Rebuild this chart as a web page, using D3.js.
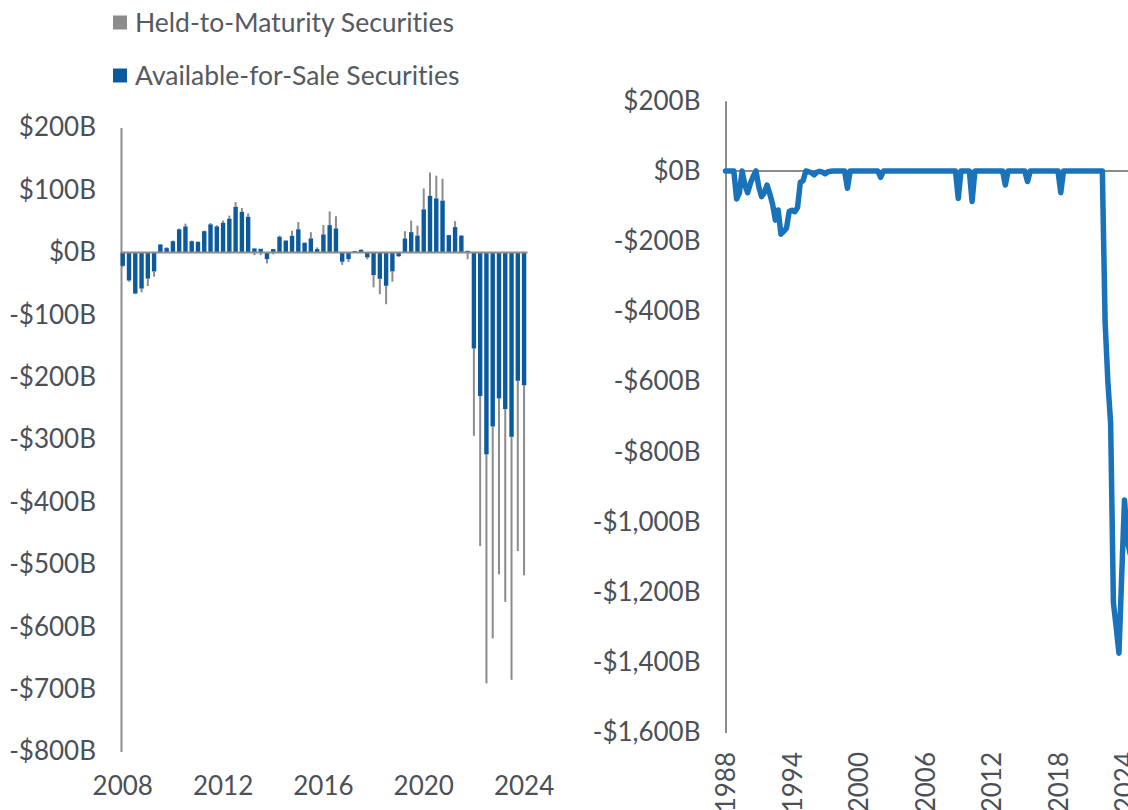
<!DOCTYPE html>
<html>
<head>
<meta charset="utf-8">
<script src="https://cdn.jsdelivr.net/npm/d3@7"></script>
<style>
  body { margin: 0; background: #fff; }
  svg text {
    font-family: Lato, "Open Sans", sans-serif; fill: #4b5058;
    font-variant-ligatures: none; font-feature-settings: "liga" 0, "clig" 0;
  }
</style>
</head>
<body>
<svg id="chart" width="1128" height="810"></svg>
<script>
// ---- Left panel: quarterly unrealized gains/losses, 2008Q1 – 2024Q1 ($B) ----
const barYears = ["2008","2009","2010","2011","2012","2013","2014","2015","2016",
                  "2017","2018","2019","2020","2021","2022","2023","2024"];
const barQuarters = [];
barYears.forEach(y => ["Q1","Q2","Q3","Q4"].forEach(q => barQuarters.push(y + q)));
barQuarters.splice(65); // series ends at 2024Q1

const afsValues = [
  -21.5, -45, -66, -58, -42, -30.5, 12.8, 6.9, 18, 37,
  41.6, 18, 17, 34, 45, 41.6, 47.5, 54, 73, 65,
  57, 6.4, 5.8, -10.7, 5.3, 25, 19, 26.6, 37, 15.4,
  22.4, 5.3, 28.8, 43.7, 38.4, -15, -10.7, 2, 4.3, -8,
  -36.4, -42.3, -53.5, -30.4, -6, 22.4, 32.5, 27, 69, 90.7,
  86.5, 83, 27.7, 40.5, 27, 2.6, -154, -230, -323.7, -279,
  -234, -251, -295.5, -205.7, -213
];
const htmValues = [
  -2, -2, -1, -6, -12, -8.5, 0.5, 1.5, 1, 1.5,
  4.5, 1, 0.5, 1, 2, 2, 3.5, 5, 7.6, 6,
  5.5, -4.5, -4.5, -7, -3, 2, 0.5, 8, 11.6, 0.5,
  10, 2.7, 15, 22, 19.6, -5, -4.5, 0.5, 0.5, -3,
  -19.6, -24.7, -29.5, -16.6, -1.5, 11.6, 18.5, 16, 33.5, 37.3,
  36.5, 35, 0.5, 9.5, 0.5, -11, -140, -240.7, -367, -339.6,
  -282, -309, -389.5, -273, -304.6
];
const barTickQuarters = ["2008Q1", "2012Q1", "2016Q1", "2020Q1", "2024Q1"];
const leftTicks = [200, 100, 0, -100, -200, -300, -400, -500, -600, -700, -800];

// ---- Right panel: quarterly total, 1988Q1 onward ($B) ----
const lineStartYear = 1988;
const lineValues = [
  0, 0, 0, 0, -80, -63, 0, -40, -62, -35,
  -15, 0, -45, -73, -62, -40, -65, -95, -140, -111,
  -180, -172, -163, -115, -112, -116, -104, -32, -28, 0,
  -2, -5, -11, -3, -1, -3, -8, -2, -1, 0,
  0, 0, 0, 0, -49, 0, 0, 0, 0, 0,
  0, 0, 0, 0, 0, 0, -18, 0, 0, 0,
  0, 0, 0, 0, 0, 0, 0, 0, 0, 0,
  0, 0, 0, 0, 0, 0, 0, 0, 0, 0,
  0, 0, 0, 0, -78, 0, 0, 0, 0, -87,
  0, 0, 0, 0, 0, 0, 0, 0, 0, 0,
  0, -40, 0, 0, 0, 0, 0, 0, 0, -30,
  0, 0, 0, 0, 0, 0, 0, 0, 0, 0,
  0, -62, 0, 0, 0, 0, 0, 0, 0, 0,
  0, 0, 0, 0, 0, 0, 0, -430, -600, -720,
  -1230, -1300, -1374, -1150, -937, -1050, -1090
];
const lineTickYears = [1988, 1994, 2000, 2006, 2012, 2018, 2024];
const rightTicks = [200, 0, -200, -400, -600, -800, -1000, -1200, -1400, -1600];

// ---- Legend ----
const legendItems = ["Held-to-Maturity Securities", "Available-for-Sale Securities"];

const COLORS = { afs: "#0b5a9e", htm: "#8c8c8c", line: "#1a73ba", axis: "#8c8c8c" };
const money = v => (v < 0 ? "-" : "") + "$" + d3.format(",")(Math.abs(v)) + "B";
const FONT = 26;

const svg = d3.select("#chart");
svg.append("rect").attr("width", 1128).attr("height", 810).attr("fill", "#fff");

// ================= Left panel =================
const xL = d3.scaleBand().domain(barQuarters).range([119.6, 527.2]).padding(0);
const yL = d3.scaleLinear().domain([-800, 200]).range([751.6, 127.6]);
const cx = q => xL(q) + xL.bandwidth() / 2;

const left = svg.append("g");

// y axis
const yAxisL = left.append("g").attr("transform", "translate(121,0)")
  .call(d3.axisLeft(yL).tickValues(leftTicks).tickSize(0).tickSizeOuter(0)
        .tickPadding(25).tickFormat(money));
yAxisL.select(".domain").attr("stroke", COLORS.axis).attr("stroke-width", 2);
yAxisL.selectAll("text").style("font-size", FONT + "px");

// bars: AFS from zero, HTM stacked on the same side (or from zero if opposite sign)
const bars = barQuarters.map((q, i) => {
  const a = afsValues[i], h = htmValues[i];
  const sameSide = (a >= 0) === (h >= 0);
  const h0 = sameSide ? a : 0;
  return { q, a, h0, h1: h0 + h };
});

left.append("g").selectAll("rect.htm").data(bars).join("rect")
  .attr("class", "htm")
  .attr("x", d => cx(d.q) - 1)
  .attr("width", 2)
  .attr("y", d => yL(Math.max(d.h0, d.h1)))
  .attr("height", d => Math.abs(yL(d.h0) - yL(d.h1)))
  .attr("fill", COLORS.htm);

left.append("g").selectAll("rect.afs").data(bars).join("rect")
  .attr("class", "afs")
  .attr("x", d => cx(d.q) - 2.2)
  .attr("width", 4.4)
  .attr("y", d => yL(Math.max(0, d.a)))
  .attr("height", d => Math.abs(yL(0) - yL(d.a)))
  .attr("fill", COLORS.afs);

// zero line
left.append("line")
  .attr("x1", 121).attr("x2", 527.5)
  .attr("y1", yL(0)).attr("y2", yL(0))
  .attr("stroke", COLORS.axis).attr("stroke-width", 2);

// x axis labels
const xAxisL = left.append("g").attr("transform", "translate(0,777)")
  .call(d3.axisBottom(xL).tickValues(barTickQuarters).tickSize(0).tickPadding(0)
        .tickFormat(q => q.slice(0, 4)));
xAxisL.select(".domain").remove();
xAxisL.selectAll("text").style("font-size", FONT + "px");

// legend
const legend = svg.append("g");
const legendColors = [COLORS.htm, COLORS.afs];
legendItems.forEach((label, i) => {
  const y = 22.5 + i * 53;
  legend.append("rect").attr("x", 113).attr("y", y - 7).attr("width", 14).attr("height", 14)
    .attr("fill", legendColors[i]);
  legend.append("text").attr("x", 135).attr("y", y).attr("dy", "0.35em")
    .style("font-size", "26.5px").style("fill", "#555a61").text(label);
});

// ================= Right panel =================
const xR = d3.scaleLinear().domain([1988, 2024]).range([725.5, 1124.5]);
const yR = d3.scaleLinear().domain([-1600, 200]).range([732.6, 100.8]);

const right = svg.append("g");

const yAxisR = right.append("g").attr("transform", "translate(725.5,0)")
  .call(d3.axisLeft(yR).tickValues(rightTicks).tickSize(0).tickSizeOuter(0)
        .tickPadding(25).tickFormat(money));
yAxisR.select(".domain").attr("stroke", COLORS.axis).attr("stroke-width", 2);
yAxisR.selectAll("text").style("font-size", FONT + "px");

right.append("line")
  .attr("x1", 725.5).attr("x2", 1128)
  .attr("y1", yR(0)).attr("y2", yR(0))
  .attr("stroke", COLORS.axis).attr("stroke-width", 2);

const linePts = lineValues.map((v, i) => ({ t: lineStartYear + i / 4, v }));
right.append("path")
  .datum(linePts)
  .attr("fill", "none")
  .attr("stroke", COLORS.line)
  .attr("stroke-width", 5.5)
  .attr("stroke-linejoin", "round")
  .attr("stroke-linecap", "round")
  .attr("d", d3.line().x(d => xR(d.t)).y(d => yR(d.v)));

const xAxisR = right.append("g").attr("transform", "translate(0,733)")
  .call(d3.axisBottom(xR).tickValues(lineTickYears).tickSize(0).tickFormat(d3.format("d")));
xAxisR.select(".domain").remove();
xAxisR.selectAll("text")
  .style("font-size", FONT + "px")
  .style("text-anchor", "end")
  .attr("x", -19).attr("y", 0).attr("dy", "0.35em")
  .attr("transform", "rotate(-90)");
</script>
</body>
</html>
